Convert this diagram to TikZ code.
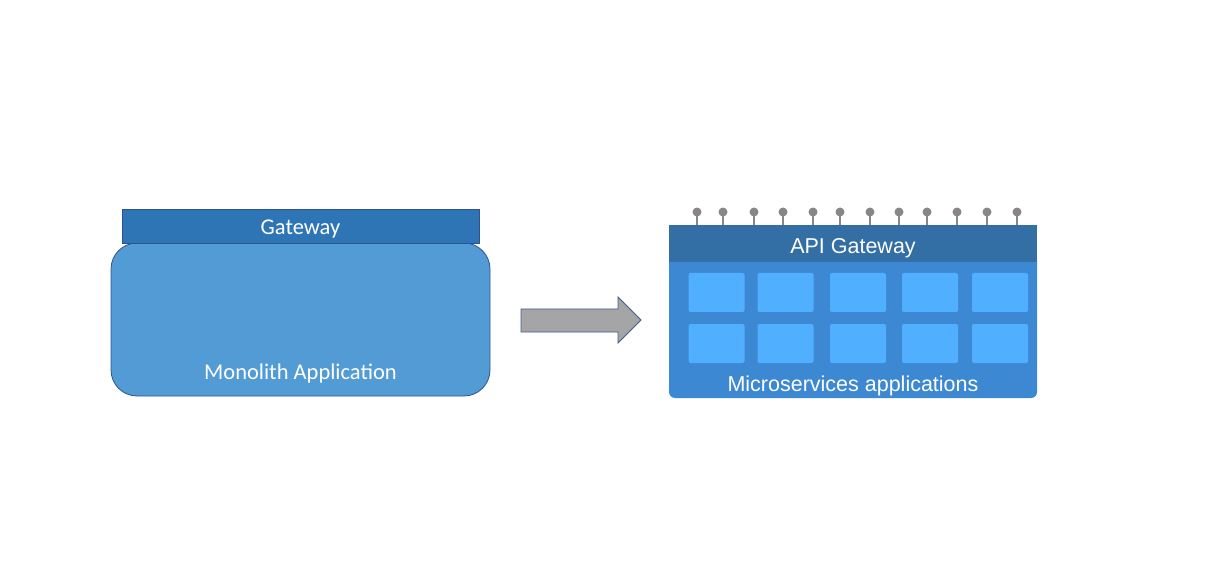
\documentclass[tikz,border=0pt]{standalone}
\usepackage{fontspec}
\newfontfamily\calib{Carlito}
\newfontfamily\arialf{Liberation Sans}
\definecolor{gwfill}{RGB}{46,117,182}
\definecolor{gwline}{RGB}{47,82,143}
\definecolor{monofill}{RGB}{82,155,213}
\definecolor{arrowfill}{RGB}{165,165,165}
\definecolor{arrowline}{RGB}{68,90,150}
\definecolor{apibar}{RGB}{51,110,165}
\definecolor{apibody}{RGB}{61,136,210}
\definecolor{tilecol}{RGB}{80,175,255}
\definecolor{pingray}{RGB}{135,135,135}
\tikzset{
  x=1pt, y=-1pt,
  gwbox/.style={draw=gwline, fill=gwfill, line width=0.8pt, inner sep=0pt, text=white},
  monobox/.style={draw=gwline, fill=monofill, line width=0.8pt, rounded corners=26pt, inner sep=0pt},
  whitetext/.style={text=white, inner sep=0pt},
  tilebox/.style={fill=tilecol, rounded corners=2pt, inner sep=0pt, minimum width=56pt, minimum height=39pt},
  pinline/.style={draw=pingray, line width=1.6pt},
  calibfont/.style={font=\calib\fontsize{22.5}{27}\selectfont},
  ariafont/.style={font=\arialf\fontsize{21.5}{25}\selectfont},
}
\begin{document}
\begin{tikzpicture}
\useasboundingbox (0,0) rectangle (1227,564);
% left: monolith
\node[monobox, minimum width=379pt, minimum height=153pt] (mono) at (300.5,319.5) {};
\node[gwbox, minimum width=357pt, minimum height=34pt] (gw) at (300.5,226) {};
\node[whitetext, calibfont] (gwtext) at (300.5,229) {Gateway};
\node[whitetext, calibfont] (monotext) at (300.5,374) {Monolith Application};
% arrow
\draw[arrowline, fill=arrowfill, line width=0.8pt]
  (521,309) -- (618,309) -- (618,297) -- (641,320) -- (618,343) -- (618,332) -- (521,332) -- cycle;
% right: microservices
\node[fill=apibody, rounded corners=6pt, minimum width=368pt, minimum height=143pt, inner sep=0pt] (body) at (853,326.5) {};
\node[fill=apibar, minimum width=368pt, minimum height=37pt, inner sep=0pt] (api) at (853,243.5) {};
\node[whitetext, ariafont] (apitext) at (853,248.5) {API Gateway};
\foreach \px [count=\i] in {697,723,754,783,813,840,870,899,927,957,987,1017} {
  \coordinate (p\i) at (\px,212);
  \draw[pinline] (p\i) -- (\px,225);
  \fill[pingray] (p\i) circle (4.5pt);
}
\foreach \cx [count=\c] in {716.5,785.5,858,930,1000} {
  \node[tilebox] (t1\c) at (\cx,292.5) {};
  \node[tilebox] (t2\c) at (\cx,343.5) {};
}
\node[whitetext, ariafont] (mstext) at (853,386) {Microservices applications};
\end{tikzpicture}
\end{document}
